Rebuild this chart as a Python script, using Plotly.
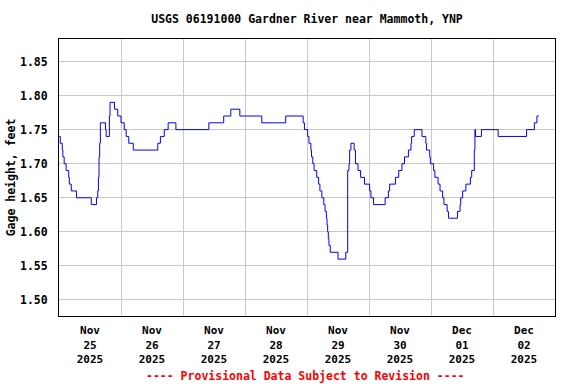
import plotly.graph_objects as go

# Step-change points of gage height (time, feet)
times = [
    "2025-11-25 00:00", "2025-11-25 00:30", "2025-11-25 01:15", "2025-11-25 01:30",
    "2025-11-25 02:00", "2025-11-25 02:45", "2025-11-25 03:45", "2025-11-25 04:00",
    "2025-11-25 04:45", "2025-11-25 06:45", "2025-11-25 12:30", "2025-11-25 14:30",
    "2025-11-25 15:00", "2025-11-25 15:15", "2025-11-25 15:30", "2025-11-25 15:45",
    "2025-11-25 16:00", "2025-11-25 18:00", "2025-11-25 18:15", "2025-11-25 19:30",
    "2025-11-25 19:45", "2025-11-25 21:30", "2025-11-25 22:45", "2025-11-26 00:00",
    "2025-11-26 01:15", "2025-11-26 02:00", "2025-11-26 03:00", "2025-11-26 04:45",
    "2025-11-26 14:15", "2025-11-26 15:15", "2025-11-26 16:45", "2025-11-26 18:15",
    "2025-11-26 21:15", "2025-11-27 10:00", "2025-11-27 15:45", "2025-11-27 18:30",
    "2025-11-27 22:00", "2025-11-28 06:30", "2025-11-28 15:45", "2025-11-28 22:30",
    "2025-11-28 23:00", "2025-11-29 00:15", "2025-11-29 00:45", "2025-11-29 01:30",
    "2025-11-29 01:45", "2025-11-29 02:15", "2025-11-29 02:45", "2025-11-29 03:45",
    "2025-11-29 04:30", "2025-11-29 05:00", "2025-11-29 05:45", "2025-11-29 06:30",
    "2025-11-29 07:00", "2025-11-29 07:30", "2025-11-29 07:45", "2025-11-29 08:00",
    "2025-11-29 08:15", "2025-11-29 08:30", "2025-11-29 09:00", "2025-11-29 12:00",
    "2025-11-29 15:00", "2025-11-29 15:45", "2025-11-29 16:15", "2025-11-29 16:30",
    "2025-11-29 17:00", "2025-11-29 18:15", "2025-11-29 18:45", "2025-11-29 19:45",
    "2025-11-29 20:45", "2025-11-29 22:15", "2025-11-30 00:15", "2025-11-30 00:45",
    "2025-11-30 01:45", "2025-11-30 06:15", "2025-11-30 07:30", "2025-11-30 08:00",
    "2025-11-30 10:15", "2025-11-30 11:30", "2025-11-30 12:45", "2025-11-30 13:45",
    "2025-11-30 15:15", "2025-11-30 16:15", "2025-11-30 16:30", "2025-11-30 17:30",
    "2025-11-30 20:30", "2025-11-30 22:00", "2025-11-30 22:15", "2025-11-30 23:30",
    "2025-11-30 23:45", "2025-12-01 01:00", "2025-12-01 01:30", "2025-12-01 02:45",
    "2025-12-01 03:30", "2025-12-01 04:30", "2025-12-01 05:00", "2025-12-01 06:15",
    "2025-12-01 06:45", "2025-12-01 10:15", "2025-12-01 11:15", "2025-12-01 11:30",
    "2025-12-01 12:15", "2025-12-01 13:30", "2025-12-01 15:15", "2025-12-01 15:45",
    "2025-12-01 16:45", "2025-12-01 17:00", "2025-12-01 17:15", "2025-12-01 19:30",
    "2025-12-02 02:00", "2025-12-02 13:00", "2025-12-02 16:00", "2025-12-02 17:00",
    "2025-12-02 17:45",
]
values = [
    1.74, 1.73, 1.72, 1.71,
    1.70, 1.69, 1.68, 1.67,
    1.66, 1.65, 1.64, 1.65,
    1.66, 1.68, 1.71, 1.73,
    1.76, 1.75, 1.74, 1.77,
    1.79, 1.78, 1.77, 1.76,
    1.75, 1.74, 1.73, 1.72,
    1.73, 1.74, 1.75, 1.76,
    1.75, 1.76, 1.77, 1.78,
    1.77, 1.76, 1.77, 1.76,
    1.75, 1.74, 1.73, 1.72,
    1.71, 1.70, 1.69, 1.68,
    1.67, 1.66, 1.65, 1.64,
    1.63, 1.62, 1.61, 1.60,
    1.59, 1.58, 1.57, 1.56,
    1.57, 1.69, 1.70, 1.72,
    1.73, 1.72, 1.70, 1.69,
    1.68, 1.67, 1.66, 1.65,
    1.64, 1.65, 1.66, 1.67,
    1.68, 1.69, 1.70, 1.71,
    1.72, 1.73, 1.74, 1.75,
    1.74, 1.73, 1.72, 1.71,
    1.70, 1.69, 1.68, 1.67,
    1.66, 1.65, 1.64, 1.63,
    1.62, 1.63, 1.64, 1.65,
    1.66, 1.67, 1.68, 1.69,
    1.72, 1.75, 1.74, 1.75,
    1.74, 1.75, 1.76, 1.77,
    1.77,
]

# Axis ticks
x_tick_vals = ["2025-11-25 12:00", "2025-11-26 12:00", "2025-11-27 12:00", "2025-11-28 12:00",
               "2025-11-29 12:00", "2025-11-30 12:00", "2025-12-01 12:00", "2025-12-02 12:00"]
x_tick_text = ["Nov<br>25<br>2025", "Nov<br>26<br>2025", "Nov<br>27<br>2025", "Nov<br>28<br>2025",
               "Nov<br>29<br>2025", "Nov<br>30<br>2025", "Dec<br>01<br>2025", "Dec<br>02<br>2025"]
x_grid_vals = ["2025-11-26", "2025-11-27", "2025-11-28", "2025-11-29",
               "2025-11-30", "2025-12-01", "2025-12-02"]
y_tick_vals = [1.50, 1.55, 1.60, 1.65, 1.70, 1.75, 1.80, 1.85]

FONT = "DejaVu Sans Mono"
GRID = "#c8c8c8"

fig = go.Figure()
fig.add_trace(go.Scatter(x=times, y=values, mode="lines",
                         line=dict(color="#0000ff", width=1, shape="hv"),
                         showlegend=False, hoverinfo="skip"))

fig.update_layout(
    width=576, height=384,
    margin=dict(l=59, r=21, t=39, b=68, autoexpand=False),
    paper_bgcolor="white", plot_bgcolor="white",
    font=dict(family=FONT, size=11, color="black", weight="bold"),
    title=dict(text="USGS 06191000 Gardner River near Mammoth, YNP",
               x=0.533, xanchor="center", y=1 - 19 / 384, yanchor="middle",
               font=dict(family=FONT, size=11.5, color="black", weight="bold")),
    xaxis=dict(
        type="date", automargin=False,
        range=["2025-11-25 00:00", "2025-12-03 00:00"],
        tickmode="array", tickvals=x_tick_vals, ticktext=x_tick_text,
        showgrid=False, ticks="", ticklen=0, ticklabelstandoff=4,
        tickfont=dict(family=FONT, size=11, color="black", weight="bold"),
        showline=True, linecolor="black", linewidth=1, mirror=True,
        minor=dict(tickmode="array", tickvals=x_grid_vals, showgrid=True,
                   gridcolor=GRID, gridwidth=1, ticks=""),
        zeroline=False,
    ),
    yaxis=dict(
        range=[1.4765, 1.883], automargin=False,
        tickmode="array", tickvals=y_tick_vals, tickformat=".2f",
        showgrid=True, gridcolor=GRID, gridwidth=1,
        ticks="", ticklabelstandoff=8,
        tickfont=dict(family=FONT, size=11.5, color="black", weight="bold"),
        showline=True, linecolor="black", linewidth=1, mirror=True,
        zeroline=False,
        title=dict(text="Gage height, feet", standoff=1,
                   font=dict(family=FONT, size=11.5, color="black", weight="bold")),
    ),
)

fig.add_annotation(text="---- Provisional Data Subject to Revision ----",
                   xref="paper", yref="paper", x=0.497, y=-(376 - 316) / 277,
                   xanchor="center", yanchor="middle", showarrow=False,
                   font=dict(family=FONT, size=11.5, color="#ff0000", weight="bold"))

fig.write_html("out.html",
               config={"displayModeBar": False},
               post_script="document.body.style.margin='0';document.body.style.padding='0';")
